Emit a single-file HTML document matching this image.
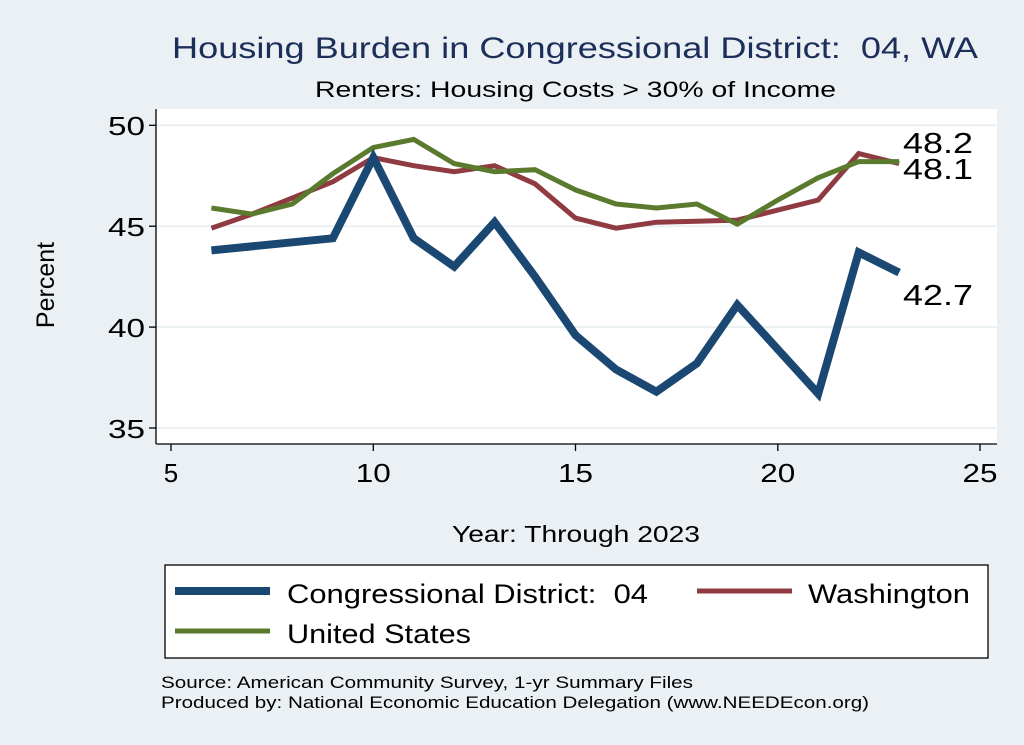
<!DOCTYPE html>
<html><head><meta charset="utf-8"><style>
body{margin:0;background:#eaf0f3;}
svg{display:block;font-family:"Liberation Sans",sans-serif;}
</style></head><body>
<svg id="s" width="1024" height="745" xmlns="http://www.w3.org/2000/svg">
<rect width="1024" height="745" fill="#eaf0f3"/>
<text x="172" y="58" font-size="30" fill="#1c2e5a" textLength="806" lengthAdjust="spacingAndGlyphs" xml:space="preserve">Housing Burden in Congressional District:  04, WA</text>
<text x="315" y="97" font-size="22" fill="#000" textLength="521" lengthAdjust="spacingAndGlyphs">Renters: Housing Costs &gt; 30% of Income</text>
<rect x="156" y="109" width="841" height="335" fill="#fff"/>
<g stroke="#eaf0f3" stroke-width="2">
<line x1="156" x2="997" y1="125.3" y2="125.3"/><line x1="156" x2="997" y1="226.2" y2="226.2"/>
<line x1="156" x2="997" y1="327.1" y2="327.1"/><line x1="156" x2="997" y1="428" y2="428"/>
</g>
<g stroke="#000" stroke-width="1.3">
<line x1="156" x2="156" y1="109" y2="444"/><line x1="156" x2="997" y1="444" y2="444"/>
<line x1="149" x2="156" y1="125.3" y2="125.3"/><line x1="149" x2="156" y1="226.2" y2="226.2"/>
<line x1="149" x2="156" y1="327.1" y2="327.1"/><line x1="149" x2="156" y1="428" y2="428"/>
<line x1="171" x2="171" y1="444" y2="451"/><line x1="373.3" x2="373.3" y1="444" y2="451"/>
<line x1="575.5" x2="575.5" y1="444" y2="451"/><line x1="777.8" x2="777.8" y1="444" y2="451"/>
<line x1="980" x2="980" y1="444" y2="451"/>
</g>
<g font-size="26" text-anchor="end">
<text x="145" y="135" textLength="37" lengthAdjust="spacingAndGlyphs">50</text><text x="145" y="236" textLength="37" lengthAdjust="spacingAndGlyphs">45</text><text x="145" y="337" textLength="37" lengthAdjust="spacingAndGlyphs">40</text><text x="145" y="438" textLength="37" lengthAdjust="spacingAndGlyphs">35</text>
</g>
<g font-size="26" text-anchor="middle">
<text x="171" y="482">5</text><text x="373.3" y="482" textLength="35" lengthAdjust="spacingAndGlyphs">10</text><text x="575.5" y="482" textLength="35" lengthAdjust="spacingAndGlyphs">15</text><text x="777.8" y="482" textLength="35" lengthAdjust="spacingAndGlyphs">20</text><text x="980" y="482" textLength="35" lengthAdjust="spacingAndGlyphs">25</text>
</g>
<text transform="translate(54,285) rotate(-90)" font-size="25" text-anchor="middle">Percent</text>
<text x="452" y="542" font-size="23" textLength="248" lengthAdjust="spacingAndGlyphs">Year: Through 2023</text>
<g id="lines"></g>
<g font-size="29">
<text x="903" y="153" textLength="70" lengthAdjust="spacingAndGlyphs">48.2</text><text x="903" y="179" textLength="70" lengthAdjust="spacingAndGlyphs">48.1</text><text x="903" y="305" textLength="70" lengthAdjust="spacingAndGlyphs">42.7</text>
</g>
<rect x="165" y="565" width="823" height="93" fill="#fff" stroke="#000" stroke-width="1.3"/>
<line x1="175" x2="270" y1="591" y2="591" stroke="#1a4872" stroke-width="8"/>
<text x="287" y="603" font-size="27" textLength="361" lengthAdjust="spacingAndGlyphs" xml:space="preserve">Congressional District:  04</text>
<line x1="697" x2="792" y1="591" y2="591" stroke="#8f3b41" stroke-width="5"/>
<text x="808" y="603" font-size="27" textLength="162" lengthAdjust="spacingAndGlyphs">Washington</text>
<line x1="175" x2="270" y1="631" y2="631" stroke="#5a7a2e" stroke-width="5"/>
<text x="287" y="643" font-size="27" textLength="184" lengthAdjust="spacingAndGlyphs">United States</text>
<text x="161" y="688" font-size="17" textLength="532" lengthAdjust="spacingAndGlyphs">Source: American Community Survey, 1-yr Summary Files</text>
<text x="161" y="708" font-size="17" textLength="708" lengthAdjust="spacingAndGlyphs">Produced by: National Economic Education Delegation (www.NEEDEcon.org)</text>
</svg>
<script>
function X(y){return 171+(y-5)*40.45}function Y(v){return 125.3+(50-v)*20.18}
var cd=[[6,43.8],[9,44.4],[10,48.4],[11,44.4],[12,43.0],[13,45.2],[14,42.5],[15,39.6],[16,37.9],[17,36.8],[18,38.2],[19,41.1],[20,38.9],[21,36.7],[22,43.7],[23,42.7]];
var wa=[44.9,45.6,46.4,47.2,48.4,48.0,47.7,48.0,47.1,45.4,44.9,45.2,45.25,45.3,45.8,46.3,48.6,48.1];
var us=[45.9,45.6,46.1,47.6,48.9,49.3,48.1,47.7,47.8,46.8,46.1,45.9,46.1,45.1,46.3,47.4,48.2,48.2];
function pts(a){return a.map(p=>X(p[0]).toFixed(1)+","+Y(p[1]).toFixed(1)).join(" ")}
function ser(a){return a.map((v,i)=>[6+i,v])}
var g=document.getElementById("lines");
g.innerHTML='<polyline fill="none" stroke="#8f3b41" stroke-width="5" points="'+pts(ser(wa))+'"/>'+
'<polyline fill="none" stroke="#5a7a2e" stroke-width="5" points="'+pts(ser(us))+'"/>'+
'<polyline fill="none" stroke="#1a4872" stroke-width="8" points="'+pts(cd)+'"/>';
</script>
</body></html>
